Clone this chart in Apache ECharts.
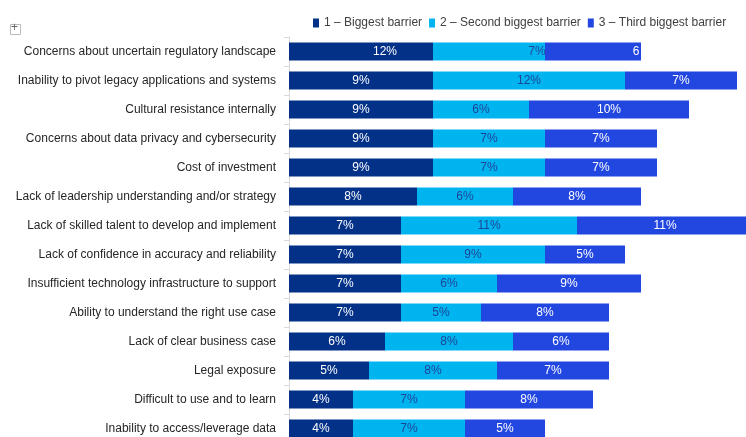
<!DOCTYPE html>
<html>
<head>
<meta charset="utf-8">
<script src="https://cdn.jsdelivr.net/npm/echarts@6/dist/echarts.min.js"></script>
<style>
  html, body { margin: 0; padding: 0; background: #fff; }
  #chart { width: 746px; height: 437px; }
</style>
</head>
<body>
<div id="chart"></div>
<script>
// categories, top to bottom
var categories = [
    'Concerns about uncertain regulatory landscape',
    'Inability to pivot legacy applications and systems',
    'Cultural resistance internally',
    'Concerns about data privacy and cybersecurity',
    'Cost of investment',
    'Lack of leadership understanding and/or strategy',
    'Lack of skilled talent to develop and implement',
    'Lack of confidence in accuracy and reliability',
    'Insufficient technology infrastructure to support',
    'Ability to understand the right use case',
    'Lack of clear business case',
    'Legal exposure',
    'Difficult to use and to learn',
    'Inability to access/leverage data'
];

var seriesNames = ['1 \u2013 Biggest barrier', '2 \u2013 Second biggest barrier', '3 \u2013 Third biggest barrier'];

// bar lengths (%) as drawn
var biggest = [9, 9, 9, 9, 9, 8, 7, 7, 7, 7, 6, 5, 4, 4];
var second  = [7, 12, 6, 7, 7, 6, 11, 9, 6, 5, 8, 8, 7, 7];
var third   = [6, 7, 10, 7, 7, 8, 11, 5, 9, 8, 6, 7, 8, 5];

// printed labels (first row in the original does not match its bar)
var biggestLabels = ['12%', '9%', '9%', '9%', '9%', '8%', '7%', '7%', '7%', '7%', '6%', '5%', '4%', '4%'];
var secondLabels  = ['7%', '12%', '6%', '7%', '7%', '6%', '11%', '9%', '6%', '5%', '8%', '8%', '7%', '7%'];
var thirdLabels   = ['6', '7%', '10%', '7%', '7%', '8%', '11%', '5%', '9%', '8%', '6%', '7%', '8%', '5%'];

var colors = ['#033188', '#00b4f0', '#2247e0'];
var labelColors = ['#ffffff', '#1d4596', '#ffffff'];
var firstRowOffsets = [24, 48, 43];
var FONT = '"Liberation Sans", Arial, sans-serif';

var myChart = echarts.init(document.getElementById('chart'));

function buildSeries(idx, values, labels) {
    return {
        name: seriesNames[idx],
        type: 'bar',
        stack: 'total',
        barWidth: 18,
        itemStyle: { color: colors[idx] },
        label: {
            show: true,
            position: 'inside',
            color: labelColors[idx],
            fontFamily: FONT,
            fontSize: 12,
            formatter: function (p) { return labels[p.dataIndex]; }
        },
        data: values.map(function (v, i) {
            if (i === 0) {
                return { value: v, label: { offset: [firstRowOffsets[idx], 0] } };
            }
            return v;
        })
    };
}

var option = {
    animation: false,
    color: colors,
    legend: {
        top: 12,
        left: 308,
        itemWidth: 6,
        itemHeight: 9,
        itemGap: 7,
        icon: 'rect',
        textStyle: { color: '#404040', fontSize: 12, fontFamily: FONT },
        data: seriesNames
    },
    graphic: [{
        type: 'rect',
        left: 10,
        top: 24,
        shape: { width: 10, height: 10 },
        style: { fill: '#fff', stroke: '#bbb', lineWidth: 1 }
    }, {
        type: 'text',
        left: 11,
        top: 22,
        style: { text: '+', fill: '#666', font: '12px Liberation Sans' }
    }],
    grid: {
        left: 289,
        top: 37,
        right: -7,
        height: 406,
        outerBoundsMode: 'none',
        containLabel: false
    },
    xAxis: {
        type: 'value',
        min: 0,
        max: 29,
        show: false
    },
    yAxis: {
        type: 'category',
        inverse: true,
        data: categories,
        axisLine: { lineStyle: { color: '#d9d9d9' } },
        axisTick: { show: true, length: 5, lineStyle: { color: '#d9d9d9' } },
        axisLabel: {
            margin: 13,
            color: '#262626',
            fontSize: 12,
            fontFamily: FONT
        }
    },
    series: [
        buildSeries(0, biggest, biggestLabels),
        buildSeries(1, second, secondLabels),
        buildSeries(2, third, thirdLabels)
    ]
};

myChart.setOption(option);
</script>
</body>
</html>
